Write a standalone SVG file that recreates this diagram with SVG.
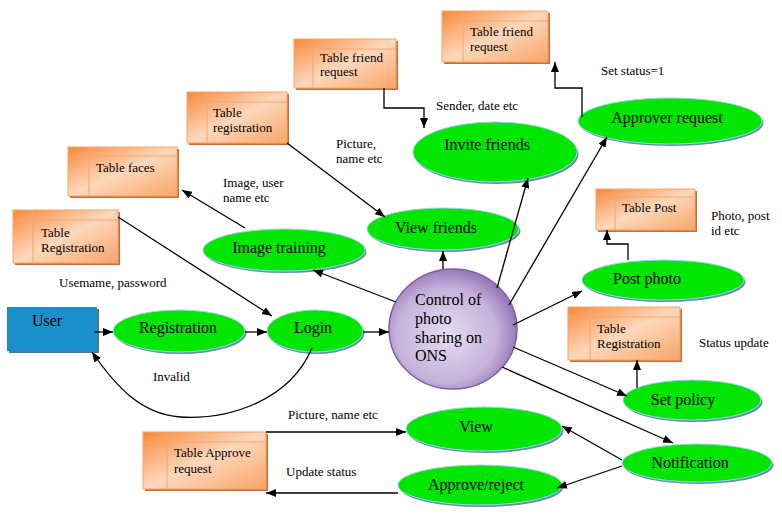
<svg xmlns="http://www.w3.org/2000/svg" width="782" height="520" viewBox="0 0 782 520" font-family="'Liberation Serif', 'Times New Roman', 'DejaVu Serif', serif">
<defs>
<linearGradient id="og" x1="0" y1="0" x2="1" y2="1">
<stop offset="0" stop-color="#f88838"/>
<stop offset="0.5" stop-color="#fdd8bc"/>
<stop offset="1" stop-color="#f9a466"/>
</linearGradient>
<radialGradient id="pg" cx="0.45" cy="0.55" r="0.6">
<stop offset="0" stop-color="#e4dcf0"/>
<stop offset="0.65" stop-color="#c6b2dc"/>
<stop offset="1" stop-color="#8a68ae"/>
</radialGradient>
<marker id="ah" markerUnits="userSpaceOnUse" markerWidth="10" markerHeight="8" refX="10" refY="4" orient="auto">
<path d="M0,0 L10,4 L0,8 z" fill="#000"/>
</marker>
</defs>
<style>
text{font-family:'Liberation Serif','Times New Roman','DejaVu Serif',serif}
.tsh{fill:#c96e36}
.tb{fill:url(#og);stroke:#f6a56c;stroke-width:1}
.tl{stroke:#f6a56c;stroke-width:1;fill:none}
.tt{font-size:13px;fill:#000}
.esh{fill:#5d93ad}
.el{fill:#00e600;stroke:#9fd4ea;stroke-width:1}
.nt{font-size:16px;fill:#000;text-anchor:middle}
.lb{font-size:13px;fill:#000}
.cn{stroke:#000;stroke-width:1.3;fill:none;marker-end:url(#ah)}
</style>
<rect width="782" height="520" fill="#fff"/>

<g id="user">
<rect x="9" y="309" width="90" height="44" fill="#4d7d92"/>
<rect x="7" y="307" width="90" height="44" fill="#1a8fcb"/>
<text class="nt" x="47" y="326">User</text>
</g>

<g id="registration">
<ellipse class="esh" cx="180.5" cy="333" rx="66" ry="21"/>
<ellipse class="el" cx="179" cy="331" rx="66" ry="21"/>
<text class="nt" x="178" y="333">Registration</text>
</g>

<g id="login">
<ellipse class="esh" cx="316.5" cy="333" rx="48" ry="21"/>
<ellipse class="el" cx="315" cy="331" rx="48" ry="21"/>
<text class="nt" x="313" y="333">Login</text>
</g>

<g id="image-training">
<ellipse class="esh" cx="285.5" cy="252" rx="81" ry="21"/>
<ellipse class="el" cx="284" cy="250" rx="81" ry="21"/>
<text class="nt" x="279" y="253">Image training</text>
</g>

<g id="view-friends">
<ellipse class="esh" cx="444.5" cy="231" rx="76" ry="21"/>
<ellipse class="el" cx="443" cy="229" rx="76" ry="21"/>
<text class="nt" x="436" y="233">View friends</text>
</g>

<g id="invite-friends">
<ellipse class="esh" cx="496.5" cy="154" rx="82" ry="30"/>
<ellipse class="el" cx="495" cy="152" rx="82" ry="30"/>
<text class="nt" x="487" y="150">Invite friends</text>
</g>

<g id="approver-request">
<ellipse class="esh" cx="671.5" cy="123" rx="92" ry="23"/>
<ellipse class="el" cx="670" cy="121" rx="92" ry="23"/>
<text class="nt" x="667" y="123">Approver request</text>
</g>

<g id="post-photo">
<ellipse class="esh" cx="664.5" cy="282" rx="81" ry="20"/>
<ellipse class="el" cx="663" cy="280" rx="81" ry="20"/>
<text class="nt" x="647" y="284">Post photo</text>
</g>

<g id="set-policy">
<ellipse class="esh" cx="693.5" cy="402" rx="69" ry="20"/>
<ellipse class="el" cx="692" cy="400" rx="69" ry="20"/>
<text class="nt" x="683" y="405">Set policy</text>
</g>

<g id="notification">
<ellipse class="esh" cx="698.5" cy="465" rx="75" ry="19"/>
<ellipse class="el" cx="697" cy="463" rx="75" ry="19"/>
<text class="nt" x="690" y="468">Notification</text>
</g>

<g id="view">
<ellipse class="esh" cx="485.5" cy="431" rx="78" ry="22"/>
<ellipse class="el" cx="484" cy="429" rx="78" ry="22"/>
<text class="nt" x="476" y="432">View</text>
</g>

<g id="approve-reject">
<ellipse class="esh" cx="481.5" cy="487" rx="82" ry="20"/>
<ellipse class="el" cx="480" cy="485" rx="82" ry="20"/>
<text class="nt" x="476" y="490">Approve/reject</text>
</g>

<g id="control">
<ellipse cx="453" cy="329" rx="64" ry="60" fill="url(#pg)" stroke="#7d5fa0" stroke-width="1.5"/>
<text class="nt" style="text-anchor:start" x="415" y="305">Control of</text>
<text class="nt" style="text-anchor:start" x="415" y="324">photo</text>
<text class="nt" style="text-anchor:start" x="415" y="343">sharing on</text>
<text class="nt" style="text-anchor:start" x="415" y="361">ONS</text>
</g>

<g id="table-faces">
<rect class="tsh" x="70" y="149" width="109" height="49"/>
<rect class="tb" x="68" y="147" width="109" height="49"/>
<line class="tl" x1="68" y1="156" x2="177" y2="156"/>
<line class="tl" x1="89" y1="147" x2="89" y2="196"/>
<text class="tt" x="96" y="172">Table faces</text>
</g>

<g id="table-registration-left">
<rect class="tsh" x="15" y="212" width="105" height="53"/>
<rect class="tb" x="13" y="210" width="105" height="53"/>
<line class="tl" x1="13" y1="220" x2="118" y2="220"/>
<line class="tl" x1="33" y1="210" x2="33" y2="263"/>
<text class="tt" x="41" y="237">Table</text>
<text class="tt" x="41" y="252">Registration</text>
</g>

<g id="table-registration-mid">
<rect class="tsh" x="189" y="94" width="100" height="51"/>
<rect class="tb" x="187" y="92" width="100" height="51"/>
<line class="tl" x1="187" y1="102" x2="287" y2="102"/>
<line class="tl" x1="207" y1="92" x2="207" y2="143"/>
<text class="tt" x="213" y="117">Table</text>
<text class="tt" x="213" y="132">registration</text>
</g>

<g id="table-friend-request-mid">
<rect class="tsh" x="296" y="41" width="102" height="49"/>
<rect class="tb" x="294" y="39" width="102" height="49"/>
<line class="tl" x1="294" y1="49" x2="396" y2="49"/>
<line class="tl" x1="313" y1="39" x2="313" y2="88"/>
<text class="tt" x="320" y="62">Table friend</text>
<text class="tt" x="320" y="76">request</text>
</g>

<g id="table-friend-request-top">
<rect class="tsh" x="444" y="13" width="106" height="51"/>
<rect class="tb" x="442" y="11" width="106" height="51"/>
<line class="tl" x1="442" y1="21" x2="548" y2="21"/>
<line class="tl" x1="463" y1="11" x2="463" y2="62"/>
<text class="tt" x="470" y="36">Table friend</text>
<text class="tt" x="470" y="51">request</text>
</g>

<g id="table-post">
<rect class="tsh" x="598" y="191" width="99" height="41"/>
<rect class="tb" x="596" y="189" width="99" height="41"/>
<line class="tl" x1="596" y1="197" x2="695" y2="197"/>
<line class="tl" x1="615" y1="189" x2="615" y2="230"/>
<text class="tt" x="622" y="212">Table Post</text>
</g>

<g id="table-registration-right">
<rect class="tsh" x="570" y="309" width="112" height="53"/>
<rect class="tb" x="568" y="307" width="112" height="53"/>
<line class="tl" x1="568" y1="317" x2="680" y2="317"/>
<line class="tl" x1="590" y1="307" x2="590" y2="360"/>
<text class="tt" x="597" y="333">Table</text>
<text class="tt" x="597" y="348">Registration</text>
</g>

<g id="table-approve-request">
<rect class="tsh" x="145" y="434" width="123" height="57"/>
<rect class="tb" x="143" y="432" width="123" height="57"/>
<line class="tl" x1="143" y1="442" x2="266" y2="442"/>
<line class="tl" x1="167" y1="432" x2="167" y2="489"/>
<text class="tt" x="174" y="457">Table Approve</text>
<text class="tt" x="174" y="473">request</text>
</g>

<g id="connectors">
<path class="cn" d="M94,332 L113,332"/>
<path class="cn" d="M245,332 L267,332"/>
<path class="cn" d="M363,332 L389,332"/>
<path class="cn" d="M312,348 C290,400 230,420 180,417 C140,414 115,385 92,352"/>
<path class="cn" d="M118,217 L272,316"/>
<path class="cn" d="M245,228 L182,190"/>
<path class="cn" d="M396,302 L313,270"/>
<path class="cn" d="M287,143 L385,217"/>
<path class="cn" d="M443,269 L443,251"/>
<path class="cn" d="M384,88 V108 H424 V128"/>
<path class="cn" d="M497,288 L528,178"/>
<path class="cn" d="M509,305 L607,137"/>
<path class="cn" d="M582,117 V88 H555 V62"/>
<path class="cn" d="M513,325 L582,291"/>
<path class="cn" d="M628,260 V244 H607 V230"/>
<path class="cn" d="M513,347 L627,396"/>
<path class="cn" d="M637,388 V360"/>
<path class="cn" d="M502,367 L673,443"/>
<path class="cn" d="M622,460 L562,426"/>
<path class="cn" d="M622,466 L557,488"/>
<path class="cn" d="M266,432 L406,432"/>
<path class="cn" d="M398,493 L266,493"/>
</g>

<g id="labels">
<text class="lb" x="59" y="287">Usemame, password</text>
<text class="lb" x="153" y="381">Invalid</text>
<text class="lb" x="223" y="187">Image, user</text>
<text class="lb" x="223" y="202">name etc</text>
<text class="lb" x="336" y="148">Picture,</text>
<text class="lb" x="336" y="163">name etc</text>
<text class="lb" x="436" y="110">Sender, date etc</text>
<text class="lb" x="601" y="75">Set status=1</text>
<text class="lb" x="711" y="220">Photo, post</text>
<text class="lb" x="711" y="235">id etc</text>
<text class="lb" x="699" y="347">Status update</text>
<text class="lb" x="288" y="419">Picture, name etc</text>
<text class="lb" x="286" y="476">Update status</text>
</g>
</svg>
